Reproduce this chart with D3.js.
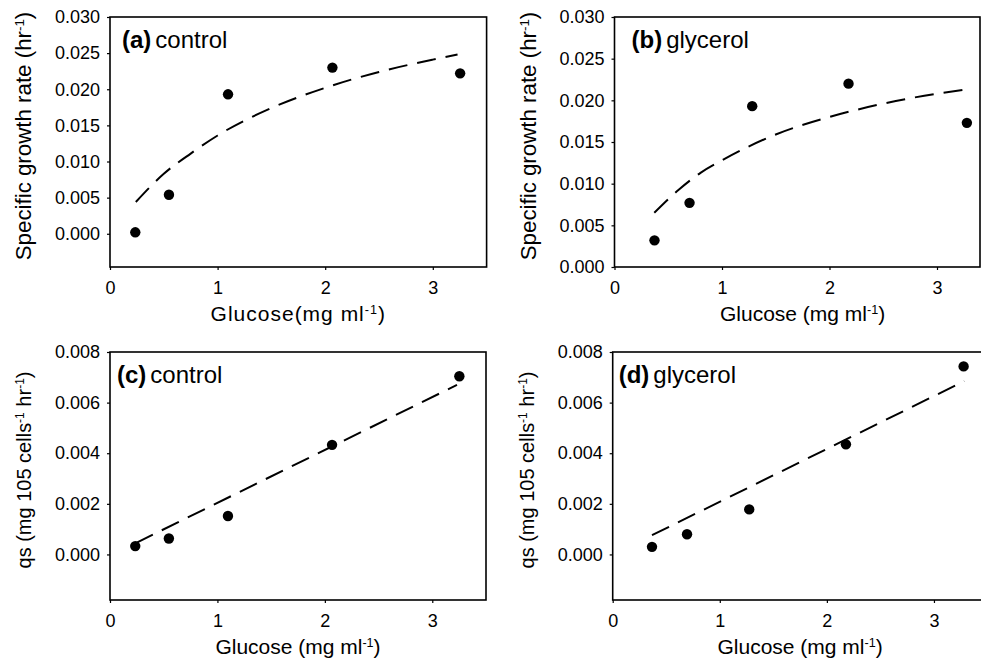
<!DOCTYPE html>
<html>
<head>
<meta charset="utf-8">
<script src="https://cdn.jsdelivr.net/npm/d3@7"></script>
<style>
	body { margin: 0; background: #fff; }
	text { font-family: "Liberation Sans", Arial, Helvetica, sans-serif; fill: #000; }
</style>
</head>
<body>
<svg id="chart" width="981" height="658"></svg>
<script>
// measured points, glucose (mg/ml)
const glucoseA = [0.235, 0.548, 1.097, 2.067, 3.254]
const growthA = [0.0002, 0.0054, 0.0193, 0.0230, 0.0222]
const fitGlucoseA = [0.24, 0.5, 0.75, 1.0, 1.5, 2.0, 2.5, 3.0, 3.23]
const fitGrowthA = [0.0044, 0.0083, 0.0111, 0.0136, 0.0174, 0.0202, 0.0224, 0.0241, 0.0248]

const glucoseB = [0.372, 0.698, 1.281, 2.177, 3.278]
const growthB = [0.0032, 0.0077, 0.0193, 0.0220, 0.0173]
const fitGlucoseB = [0.37, 0.6, 0.8, 1.0, 1.5, 2.0, 2.5, 3.0, 3.28]
const fitGrowthB = [0.0065, 0.0093, 0.0113, 0.0128, 0.0159, 0.0180, 0.0196, 0.0208, 0.0213]

const glucoseC = [0.235, 0.548, 1.098, 2.067, 3.252]
const uptakeC = [0.00033, 0.00063, 0.00152, 0.00433, 0.00704]
const fitGlucoseC = [0.24, 3.23]
const fitUptakeC = [0.00045, 0.0067]

const glucoseD = [0.367, 0.694, 1.275, 2.178, 3.277]
const uptakeD = [0.00030, 0.00080, 0.00178, 0.00435, 0.00743]
const fitGlucoseD = [0.367, 3.283]
const fitUptakeD = [0.00076, 0.00685]

const xTicks = [0, 1, 2, 3]
const growthTicks = [0, 0.005, 0.01, 0.015, 0.02, 0.025, 0.03]
const uptakeTicks = [0, 0.002, 0.004, 0.006, 0.008]

const growthTitle = [['Specific growth rate (hr'], ['-1', true], [')']]
const uptakeTitle = [['qs (mg 105 cells'], ['-1', true], [' hr'], ['-1', true], [')']]
const glucoseTitleTight = [['Glucose(mg ml'], ['-1', true], [')']]
const glucoseTitle = [['Glucose (mg ml'], ['-1', true], [')']]

const panels = [
	{ tag: '(a)', name: 'control', xs: glucoseA, ys: growthA, fx: fitGlucoseA, fy: fitGrowthA,
		left: 110, right: 486.6, top: 17, bottom: 267, xDomain: [0, 3.5], yDomain: [-0.0046, 0.03],
		yTicks: growthTicks, yTitle: growthTitle, yTitleSize: 22.3, xTitle: glucoseTitleTight, xTitleSpacing: 1, tagX: 12 },
	{ tag: '(b)', name: 'glycerol', xs: glucoseB, ys: growthB, fx: fitGlucoseB, fy: fitGrowthB,
		left: 614.5, right: 980, top: 17, bottom: 267, xDomain: [0, 3.4], yDomain: [0, 0.03],
		yTicks: growthTicks, yTitle: growthTitle, yTitleSize: 22.3, xTitle: glucoseTitle, xTitleSpacing: 0, tagX: 17 },
	{ tag: '(c)', name: 'control', xs: glucoseC, ys: uptakeC, fx: fitGlucoseC, fy: fitUptakeC,
		left: 110, right: 486, top: 352, bottom: 600, xDomain: [0, 3.5], yDomain: [-0.0018, 0.008],
		yTicks: uptakeTicks, yTitle: uptakeTitle, yTitleSize: 20, xTitle: glucoseTitle, xTitleSpacing: 0, tagX: 7 },
	{ tag: '(d)', name: 'glycerol', xs: glucoseD, ys: uptakeD, fx: fitGlucoseD, fy: fitUptakeD,
		left: 612.7, right: 987.5, top: 352, bottom: 600, xDomain: [0, 3.5], yDomain: [-0.0018, 0.008],
		yTicks: uptakeTicks, yTitle: uptakeTitle, yTitleSize: 20, xTitle: glucoseTitle, xTitleSpacing: 0, tagX: 6 }
]

const svg = d3.select('#chart')

// writes text pieces, superscripts as smaller raised tspans
function addPieces(text, pieces) {
	pieces.forEach(([s, sup]) => {
		const t = text.append('tspan').text(s)
		if (sup) t.attr('font-size', '0.6em').attr('baseline-shift', 'super')
	})
}

function drawPanel(p) {
	const x = d3.scaleLinear().domain(p.xDomain).range([p.left, p.right])
	const y = d3.scaleLinear().domain(p.yDomain).range([p.bottom, p.top])
	const g = svg.append('g')

	const xAxis = g
		.append('g')
		.attr('transform', `translate(0,${p.bottom})`)
		.call(d3.axisBottom(x).tickValues(xTicks).tickFormat(d3.format('d')).tickSize(3).tickPadding(11))
	const yAxis = g
		.append('g')
		.attr('transform', `translate(${p.left},0)`)
		.call(d3.axisLeft(y).tickValues(p.yTicks).tickFormat(d3.format('.3f')).tickSize(3).tickPadding(7))

	;[xAxis, yAxis].forEach(a => {
		a.attr('font-size', 18).attr('font-family', null)
		a.select('.domain').remove()
		a.selectAll('line').attr('stroke', '#000').attr('stroke-width', 1.2)
	})

	// box round the plot
	g.append('rect')
		.attr('x', p.left)
		.attr('y', p.top)
		.attr('width', p.right - p.left)
		.attr('height', p.bottom - p.top)
		.attr('fill', 'none')
		.attr('stroke', '#000')
		.attr('stroke-width', 1.6)

	// fitted curve
	const line = d3.line().x(d => x(d[0])).y(d => y(d[1])).curve(d3.curveMonotoneX)
	g.append('path')
		.datum(p.fx.map((v, i) => [v, p.fy[i]]))
		.attr('d', line)
		.attr('fill', 'none')
		.attr('stroke', '#000')
		.attr('stroke-width', 2)
		.attr('stroke-dasharray', '19,10')

	g.selectAll('circle')
		.data(p.xs.map((v, i) => [v, p.ys[i]]))
		.enter()
		.append('circle')
		.attr('cx', d => x(d[0]))
		.attr('cy', d => y(d[1]))
		.attr('r', 5.2)
		.attr('fill', '#000')

	const tag = g.append('text')
		.attr('x', p.left + p.tagX)
		.attr('y', p.top + 31)
		.attr('font-size', 24)
	tag.append('tspan').attr('font-weight', 'bold').text(p.tag)
	tag.append('tspan').attr('dx', 4).text(p.name)

	const xt = g.append('text')
		.attr('x', x(1.75))
		.attr('y', p.bottom + 54)
		.attr('text-anchor', 'middle')
		.attr('font-size', 21)
		.attr('letter-spacing', p.xTitleSpacing)
	addPieces(xt, p.xTitle)

	const yt = g.append('text')
		.attr('transform', `translate(${p.left - 79},${(p.top + p.bottom) / 2 - 6}) rotate(-90)`)
		.attr('text-anchor', 'middle')
		.attr('font-size', p.yTitleSize)
	addPieces(yt, p.yTitle)
}

panels.forEach(drawPanel)
</script>
</body>
</html>
